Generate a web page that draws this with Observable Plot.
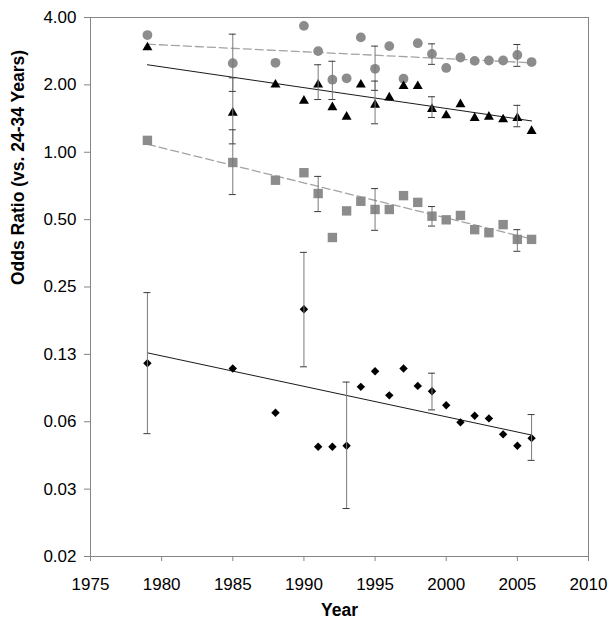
<!DOCTYPE html>
<html>
<head>
<meta charset="utf-8">
<script src="https://cdn.jsdelivr.net/npm/d3@7"></script>
<script src="https://cdn.jsdelivr.net/npm/@observablehq/plot@0.6"></script>
<style>
  html, body { margin: 0; padding: 0; background: #fff; }
  svg { display: block; }
</style>
</head>
<body>
<div id="chart"></div>
<script>
// ---- data ----
const years = [1979, 1985, 1988, 1990, 1991, 1992, 1993, 1994, 1995, 1996, 1997, 1998, 1999, 2000, 2001, 2002, 2003, 2004, 2005, 2006];
const circleVals   = [3.34, 2.50, 2.51, 3.67, 2.83, 2.11, 2.14, 3.26, 2.36, 2.98, 2.13, 3.07, 2.75, 2.38, 2.65, 2.56, 2.57, 2.57, 2.72, 2.53];
const triangleVals = [2.98, 1.52, 2.03, 1.72, 2.03, 1.61, 1.46, 2.03, 1.65, 1.78, 2.00, 2.00, 1.58, 1.48, 1.66, 1.44, 1.46, 1.42, 1.44, 1.26];
const squareVals   = [1.13, 0.90, 0.75, 0.81, 0.654, 0.416, 0.547, 0.604, 0.555, 0.555, 0.64, 0.597, 0.518, 0.499, 0.522, 0.451, 0.437, 0.475, 0.408, 0.408];
const diamondVals  = [0.114, 0.108, 0.0685, 0.199, 0.0483, 0.0483, 0.0488, 0.0895, 0.105, 0.082, 0.108, 0.0904, 0.0856, 0.074, 0.0621, 0.0665, 0.0647, 0.0549, 0.0488, 0.0528];

// error bars (95% CI)
const circleErrYears = [1985, 1992, 1995, 1999, 2005];
const circleErrLo    = [1.87, 1.72, 1.89, 2.47, 2.42];
const circleErrHi    = [3.37, 2.55, 2.98, 3.05, 3.03];
const triErrYears = [1985, 1991, 1995, 1999, 2005];
const triErrLo    = [1.09, 1.72, 1.34, 1.43, 1.30];
const triErrHi    = [2.15, 2.46, 2.08, 1.77, 1.62];
const sqErrYears = [1985, 1991, 1995, 1999, 2005];
const sqErrLo    = [0.647, 0.543, 0.448, 0.468, 0.361];
const sqErrHi    = [1.26, 0.78, 0.688, 0.572, 0.451];
const diaErrYears = [1979, 1990, 1993, 1999, 2006];
const diaErrLo    = [0.0553, 0.110, 0.0256, 0.0706, 0.042];
const diaErrHi    = [0.236, 0.357, 0.094, 0.103, 0.0673];

// fitted trend lines (endpoints)
const trendYears    = [1979, 2006];
const circleTrend   = [3.04, 2.51];
const triangleTrend = [2.46, 1.38];
const squareTrend   = [1.085, 0.41];
const diamondTrend  = [0.127, 0.0545];

// axes
const xTicks = [1975, 1980, 1985, 1990, 1995, 2000, 2005, 2010];
const yTicks = [1/64, 1/32, 1/16, 1/8, 1/4, 1/2, 1, 2, 4];
const yTickLabels = ["0.02", "0.03", "0.06", "0.13", "0.25", "0.50", "1.00", "2.00", "4.00"];
const xTitle = "Year";
const yTitle = "Odds Ratio (vs. 24-34 Years)";

// ---- build tables ----
const rows = years.map((year, i) => ({year, circle: circleVals[i], triangle: triangleVals[i], square: squareVals[i], diamond: diamondVals[i]}));
const errRows = [
  ...circleErrYears.map((year, i) => ({year, lo: circleErrLo[i], hi: circleErrHi[i]})),
  ...triErrYears.map((year, i) => ({year, lo: triErrLo[i], hi: triErrHi[i]})),
  ...sqErrYears.map((year, i) => ({year, lo: sqErrLo[i], hi: sqErrHi[i]})),
  ...diaErrYears.map((year, i) => ({year, lo: diaErrLo[i], hi: diaErrHi[i]}))
];
const capRows = errRows.flatMap(d => [{year: d.year, v: d.lo}, {year: d.year, v: d.hi}]);
const trendRows = trendYears.map((year, i) => ({year, circle: circleTrend[i], triangle: triangleTrend[i], square: squareTrend[i], diamond: diamondTrend[i]}));

const gray = "#8c8c8c";
const axisColor = "#858585";

const chart = Plot.plot({
  width: 616,
  height: 628,
  marginLeft: 90,
  marginTop: 17,
  marginRight: 28,
  marginBottom: 72,
  style: {fontFamily: "'Liberation Sans', Arial, sans-serif", fontSize: "17px", color: "#000", background: "#fff"},
  x: {domain: [1975, 2010], ticks: xTicks, tickFormat: d => String(d)},
  y: {type: "log", base: 2, domain: [1/64, 4], ticks: yTicks, tickFormat: d => yTickLabels[yTicks.indexOf(d)]},
  marks: [
    Plot.frame({stroke: axisColor, strokeWidth: 1}),
    Plot.axisX({ticks: xTicks, tickFormat: d => String(d), tickSize: 5, tickPadding: 16.5, stroke: axisColor, fill: "#000", label: null, fontSize: 17}),
    Plot.axisY({ticks: yTicks, tickFormat: d => yTickLabels[yTicks.indexOf(d)], tickSize: 6, tickPadding: 8, stroke: axisColor, fill: "#000", label: null, fontSize: 17}),
    // trend lines
    Plot.line(trendRows, {x: "year", y: "circle", stroke: "#a3a3a3", strokeWidth: 1.3, strokeDasharray: "8,4"}),
    Plot.line(trendRows, {x: "year", y: "square", stroke: "#a3a3a3", strokeWidth: 1.3, strokeDasharray: "8,4"}),
    Plot.line(trendRows, {x: "year", y: "triangle", stroke: "#1a1a1a", strokeWidth: 1}),
    Plot.line(trendRows, {x: "year", y: "diamond", stroke: "#1a1a1a", strokeWidth: 1}),
    // markers
    Plot.dot(rows, {x: "year", y: "circle", symbol: "circle", r: 4.9, fill: gray, stroke: null}),
    Plot.dot(rows, {x: "year", y: "square", symbol: "square", r: 5.3, fill: gray, stroke: null}),
    Plot.dot(rows, {x: "year", y: "triangle", symbol: "triangle", r: 3.7, dy: 1.3, fill: "#000", stroke: null}),
    Plot.dot(rows, {x: "year", y: "diamond", symbol: "diamond2", r: 3.8, fill: "#000", stroke: null}),
    // error bars
    Plot.ruleX(errRows, {x: "year", y1: "lo", y2: "hi", stroke: "#7a7a7a", strokeWidth: 1}),
    Plot.ruleY(capRows, {y: "v", x1: "year", x2: "year", insetLeft: -3.5, insetRight: -3.5, stroke: "#3a3a3a", strokeWidth: 1}),
    // axis titles
    Plot.text([xTitle], {frameAnchor: "bottom", dy: 59, fontWeight: "bold", fontSize: 17.5, fill: "#000"}),
    Plot.text([yTitle], {frameAnchor: "left", dx: -72, dy: -2, rotate: -90, fontWeight: "bold", fontSize: 17.5, fill: "#000"})
  ]
});
document.getElementById("chart").appendChild(chart);
</script>
</body>
</html>
